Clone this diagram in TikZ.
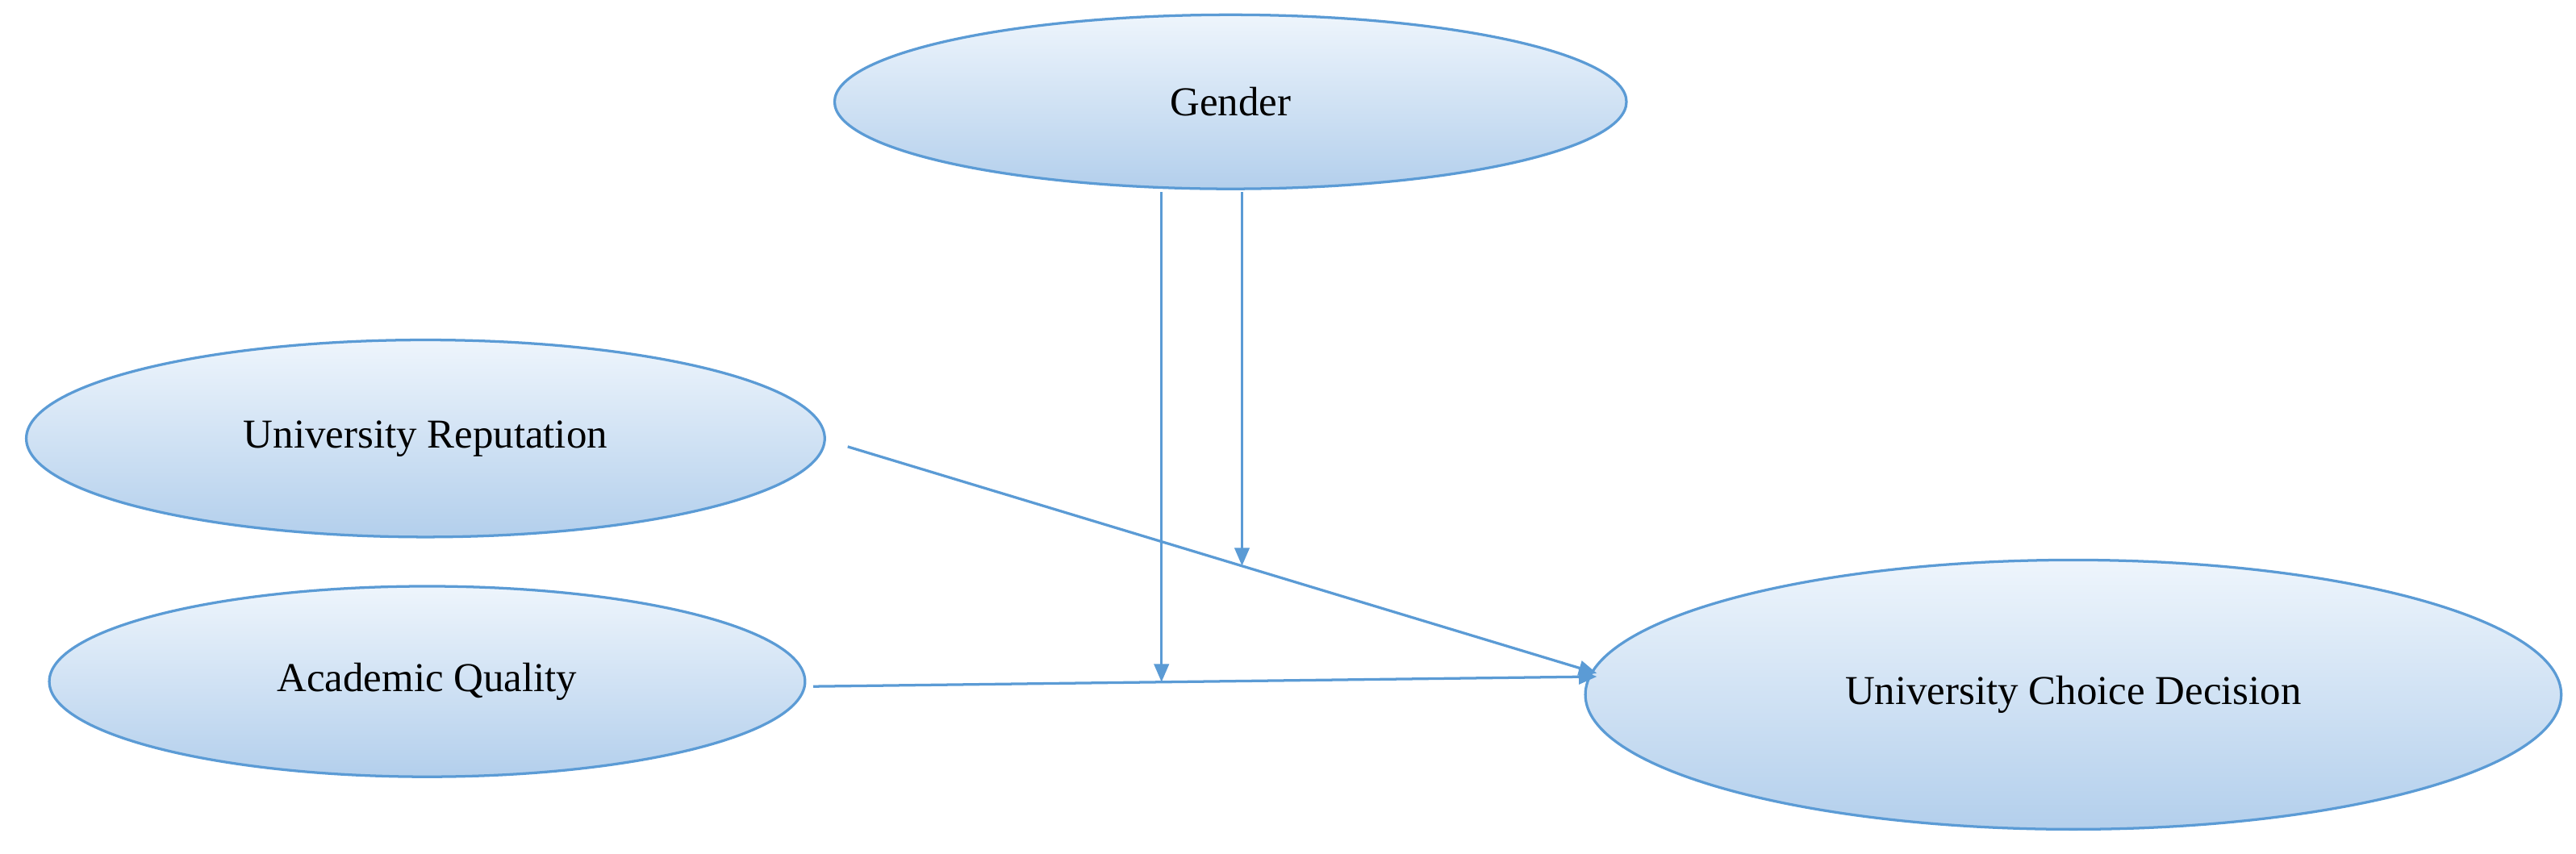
\documentclass[tikz,border=0pt]{standalone}
\usepackage{fontspec}
\setmainfont{Liberation Serif}
\usetikzlibrary{shapes.geometric,calc,arrows.meta}
\definecolor{edge}{HTML}{5B9BD5}
\definecolor{topc}{HTML}{EEF5FC}
\definecolor{botc}{HTML}{B3CFEC}
\begin{document}
\begin{tikzpicture}[x=1pt,y=-1pt,
  ell/.style={ellipse,draw=edge,line width=1.6pt,top color=topc,bottom color=botc,font=\fontsize{25}{30}\selectfont,inner sep=0pt},
  arr/.style={draw=edge,line width=1.6pt,-{Triangle[length=11pt,width=9pt]}}]
\useasboundingbox (0,0) rectangle (1568,520);
\node[ell,minimum width=482pt,minimum height=106pt] (g) at (749,62) {Gender};
\node[ell,minimum width=486pt,minimum height=120pt] (ur) at (259,267) {University Reputation};
\node[ell,minimum width=460pt,minimum height=116pt] (aq) at (260,415) {Academic Quality};
\node[ell,minimum width=594pt,minimum height=164pt] (ucd) at (1262,423) {University Choice Decision};
\coordinate (ur1) at (516,272);
\coordinate (aq1) at (495,418);
\coordinate (e1) at (972,410);
\coordinate (e2) at (972,412);
\draw[arr] (ur1) -- (e1);
\draw[arr] (aq1) -- (e2);
\coordinate (m1) at ($(ur1)!0.526!(e1)$);
\coordinate (m2) at ($(aq1)!0.444!(e2)$);
\coordinate (g1) at (707,117);
\coordinate (g2) at (756,117);
\draw[arr] (g1) -- (g1|-m2);
\draw[arr] (g2) -- (g2|-m1);
\end{tikzpicture}
\end{document}
